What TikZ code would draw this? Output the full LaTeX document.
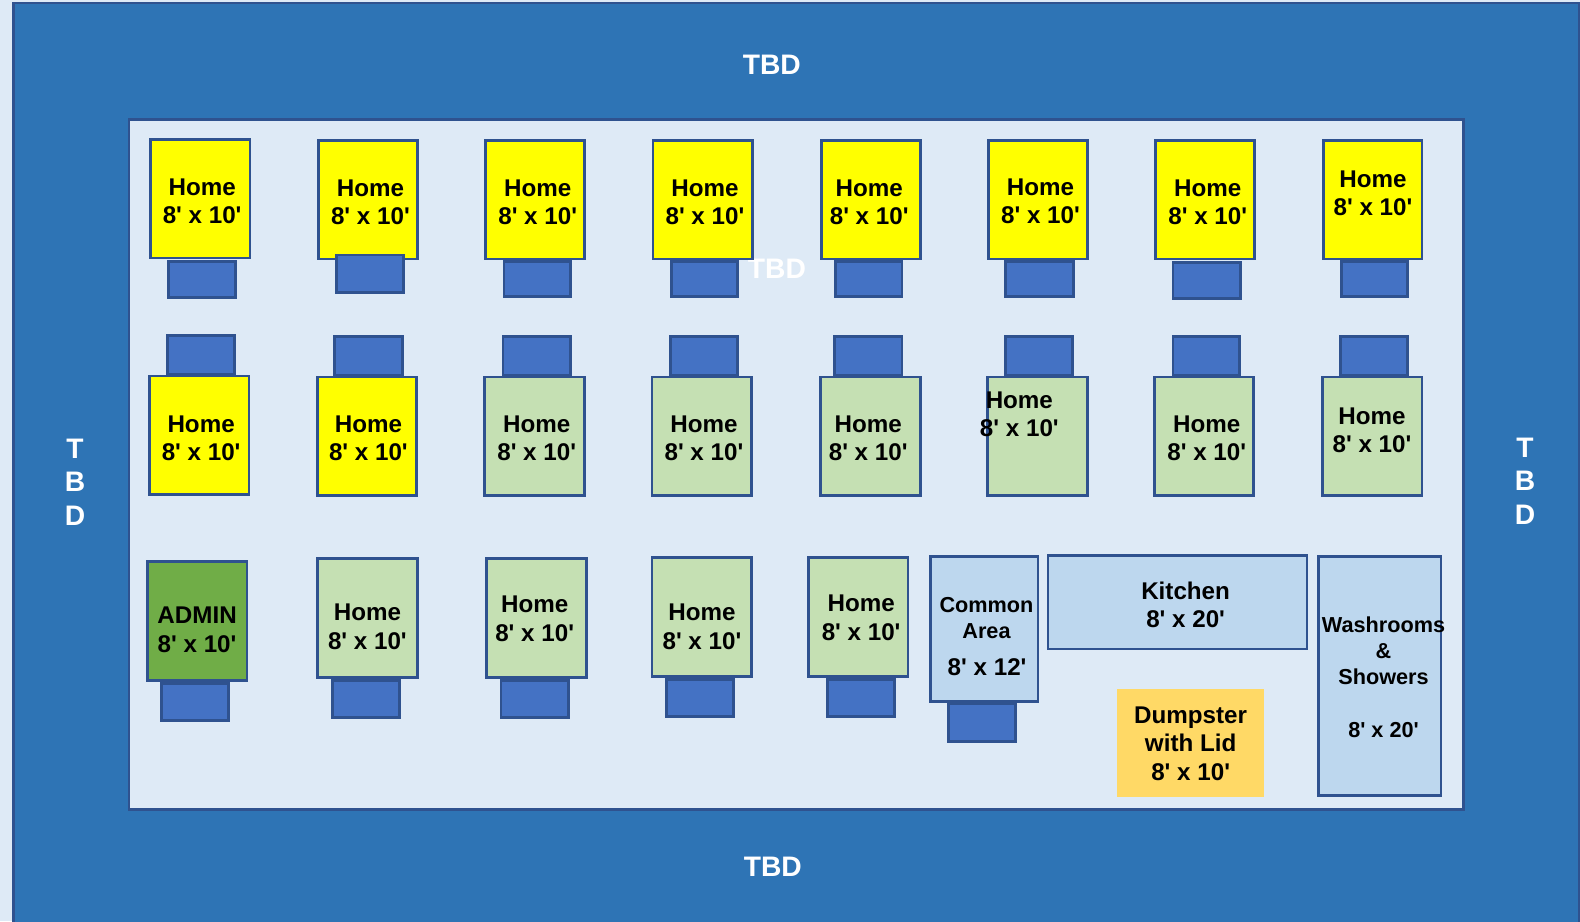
\documentclass[tikz,border=0pt]{standalone}
\usepackage{fontspec}
\setmainfont{Liberation Sans}[Ligatures=TeXOff]
\newcommand{\rectbox}[6]{\draw[#1] (#2+1.1,#3+1.1) rectangle (#4-0.9,#5-0.9);}
\tikzset{
  x=1pt,y=-1pt,
  outline/.style={draw=edgeblue,line width=2.8pt,miter limit=10},
  yellowhome/.style={outline,fill=homeyellow},
  greenhome/.style={outline,fill=homegreen},
  adminhome/.style={outline,fill=admingreen},
  porch/.style={outline,fill=porchblue},
  facility/.style={outline,fill=facilityblue},
  label/.style={inner sep=0pt,xshift=0.6pt,align=center,text=black,font=\bfseries\fontsize{24}{28}\selectfont},
  smalllabel/.style={inner sep=0pt,align=center,text=black,font=\bfseries\fontsize{21.5}{26}\selectfont},
  tbd/.style={inner sep=0pt,align=center,text=white,font=\bfseries\fontsize{28}{33.5}\selectfont}
}
\definecolor{bglight}{HTML}{DEEAF6}
\definecolor{edgeblue}{HTML}{2F528F}
\definecolor{fieldblue}{HTML}{2E74B5}
\definecolor{homeyellow}{HTML}{FFFF00}
\definecolor{homegreen}{HTML}{C5E0B3}
\definecolor{admingreen}{HTML}{70AD47}
\definecolor{porchblue}{HTML}{4472C4}
\definecolor{facilityblue}{HTML}{BDD7EE}
\definecolor{dumpster}{HTML}{FFD966}
\begin{document}
\begin{tikzpicture}
\useasboundingbox (0,0) rectangle (1568,914);
\fill[bglight] (0,0) rectangle (1568,914);
\draw[outline,fill=fieldblue] (13,3) rectangle (1567,940);
\node[tbd] (tbdtop) at (766,64.5) {TBD};
\node[tbd] (tbdbottom) at (767,860) {TBD};
\node[tbd] (tbdleft) at (74.5,478.5) {T\\B\\D};
\node[tbd] (tbdright) at (1513.5,477.5) {T\\B\\D};
\draw[outline,fill=bglight] (128,118.5) rectangle (1452.5,803);
\node[tbd] (tbdmid) at (771,267) {TBD};
% row 1
\rectbox{yellowhome}{148}{137}{249}{257}{}
\rectbox{yellowhome}{315}{138}{415}{258}{}
\rectbox{yellowhome}{481}{138}{581}{258}{}
\rectbox{yellowhome}{647}{138}{748}{258}{}
\rectbox{yellowhome}{814}{138}{914}{258}{}
\rectbox{yellowhome}{980}{138}{1080}{258}{}
\rectbox{yellowhome}{1146}{138}{1246}{258}{}
\rectbox{yellowhome}{1312}{138}{1412}{258}{}
\rectbox{porch}{166}{258}{235}{296}{}
\rectbox{porch}{333}{252}{401}{291}{}
\rectbox{porch}{499}{258}{567}{295}{}
\rectbox{porch}{665}{258}{733}{295}{}
\rectbox{porch}{828}{258}{896}{295}{}
\rectbox{porch}{997}{258}{1066}{295}{}
\rectbox{porch}{1163}{259}{1232}{297}{}
\rectbox{porch}{1330}{258}{1398}{295}{}
% row 2
\rectbox{porch}{165}{332}{234}{372}{}
\rectbox{porch}{331}{333}{400}{373}{}
\rectbox{porch}{498}{333}{567}{373}{}
\rectbox{porch}{664}{333}{733}{373}{}
\rectbox{porch}{827}{333}{896}{373}{}
\rectbox{porch}{997}{333}{1065}{373}{}
\rectbox{porch}{1163}{333}{1231}{373}{}
\rectbox{porch}{1329}{333}{1398}{373}{}
\rectbox{yellowhome}{147}{372}{248}{492}{}
\rectbox{yellowhome}{314}{373}{414}{493}{}
\rectbox{greenhome}{480}{373}{581}{493}{}
\rectbox{greenhome}{646}{373}{747}{493}{}
\rectbox{greenhome}{813}{373}{914}{493}{}
\rectbox{greenhome}{979}{373}{1080}{493}{}
\rectbox{greenhome}{1145}{373}{1245}{493}{}
\rectbox{greenhome}{1311}{373}{1412}{493}{}
% row 3
\rectbox{adminhome}{145}{556}{246}{676}{}
\rectbox{greenhome}{314}{553}{415}{673}{}
\rectbox{greenhome}{482}{553}{583}{673}{}
\rectbox{greenhome}{646}{552}{747}{672}{}
\rectbox{greenhome}{801}{552}{902}{672}{}
\rectbox{facility}{922}{551}{1031}{697}{}
\rectbox{porch}{159}{677}{228}{716}{}
\rectbox{porch}{329}{674}{397}{713}{}
\rectbox{porch}{496}{674}{565}{713}{}
\rectbox{porch}{660}{673}{729}{712}{}
\rectbox{porch}{820}{673}{889}{712}{}
\rectbox{porch}{940}{697}{1009}{737}{}
\rectbox{facility}{1039}{550}{1298}{645}{}
\rectbox{facility}{1307}{551}{1431}{790}{}
\fill[dumpster] (1108.5,684) rectangle (1254,790.5);
% labels
\node[label] (h1) at (200,200) {Home\\8' x 10'};
\node[label] (h2) at (367,200.5) {Home\\8' x 10'};
\node[label] (h3) at (533,200.5) {Home\\8' x 10'};
\node[label] (h4) at (699,200.5) {Home\\8' x 10'};
\node[label] (h5) at (862,200.5) {Home\\8' x 10'};
\node[label] (h6) at (1032,200) {Home\\8' x 10'};
\node[label] (h7) at (1198,200.5) {Home\\8' x 10'};
\node[label] (h8) at (1362,192) {Home\\8' x 10'};
\node[label] (h9) at (199,435) {Home\\8' x 10'};
\node[label] (h10) at (365,435) {Home\\8' x 10'};
\node[label] (h11) at (532,435) {Home\\8' x 10'};
\node[label] (h12) at (698,435) {Home\\8' x 10'};
\node[label] (h13) at (861,435) {Home\\8' x 10'};
\node[label] (h14) at (1011,411) {Home\\8' x 10'};
\node[label] (h15) at (1197,435) {Home\\8' x 10'};
\node[label] (h16) at (1361,427) {Home\\8' x 10'};
\node[label] (admin) at (195,625) {ADMIN\\8' x 10'};
\node[label] (h17) at (364,622) {Home\\8' x 10'};
\node[label] (h18) at (530,614) {Home\\8' x 10'};
\node[label] (h19) at (696,622) {Home\\8' x 10'};
\node[label] (h20) at (854,613) {Home\\8' x 10'};
\node[smalllabel] (common) at (979,613) {Common\\Area};
\node[label] (commonsize) at (979,662) {8' x 12'};
\node[label] (kitchen) at (1176,600.5) {Kitchen\\8' x 20'};
\node[smalllabel] (wash) at (1373,672) {Washrooms\\\&\\Showers\\[26pt]8' x 20'};
\node[label] (dump) at (1181,738) {Dumpster\\with Lid\\8' x 10'};
\end{tikzpicture}
\end{document}
